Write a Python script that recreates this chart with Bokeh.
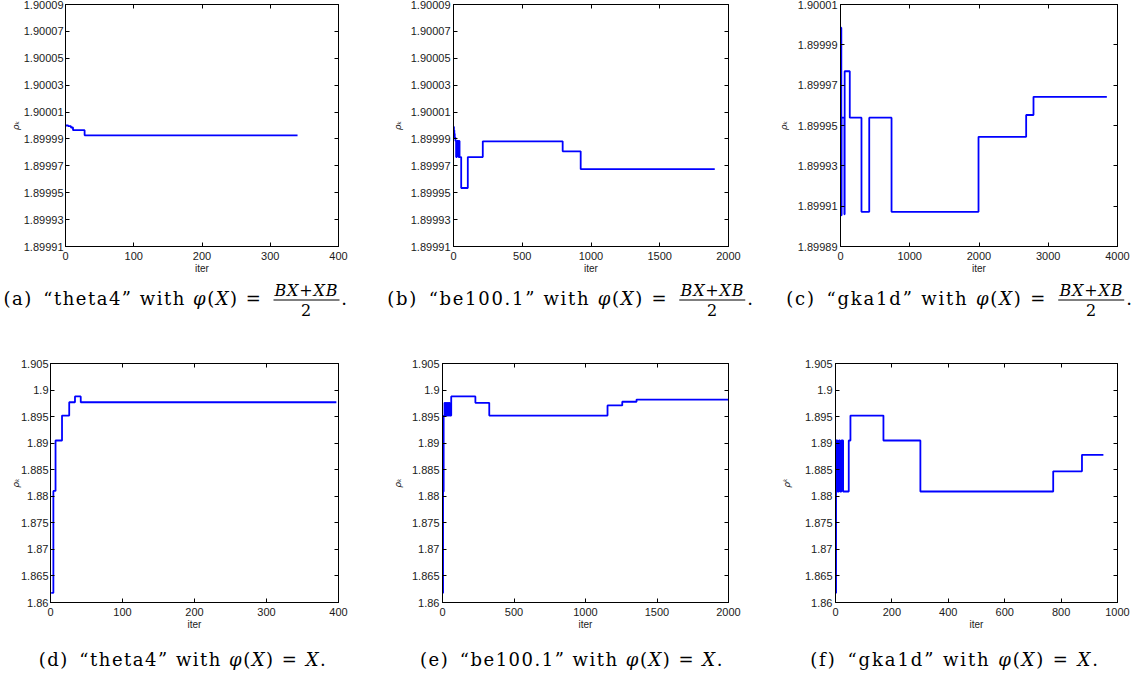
from bokeh.plotting import figure
from bokeh.models import Range1d, FixedTicker, LinearAxis, Div, ColumnDataSource
from bokeh.layouts import row, column
from bokeh.embed import file_html
from bokeh.resources import INLINE

# ---------------- data ----------------
a_iter = [0, 4, 8, 11, 28, 340]
a_rho = [1.9000000, 1.8999995, 1.8999985, 1.8999965, 1.8999927, 1.8999927]

b_iter = [0, 3, 6, 9, 14, 19, 24, 37, 40, 44, 56, 104, 213, 794, 925, 1900]
b_rho = [1.8999990, 1.8999965, 1.8999940, 1.8999910, 1.8999885, 1.8999765,
         1.8999885, 1.8999765, 1.8999885, 1.8999765, 1.8999535, 1.8999765,
         1.8999882, 1.8999808, 1.8999675, 1.8999675]

c_iter = [0, 12, 16, 56, 60, 134, 303, 415, 737, 1993, 2681, 2787, 3846]
c_rho = [1.8999985, 1.8999055, 1.8999539, 1.8999060, 1.8999769, 1.8999539,
         1.8999072, 1.8999539, 1.8999072, 1.8999444, 1.8999552, 1.8999642,
         1.8999642]

d_iter = [1, 4, 7, 16, 26, 34, 42, 397]
d_rho = [1.8618, 1.8810, 1.8905, 1.8952, 1.8977, 1.8988, 1.8977, 1.8977]

e_iter = [0, 4, 8, 14, 18, 22, 26, 30, 34, 38, 42, 46, 50, 61, 230, 327,
          1154, 1257, 1357, 2000]
e_rho = [1.8618, 1.8809, 1.8952, 1.8976, 1.8952, 1.8976, 1.8952, 1.8976,
         1.8952, 1.8976, 1.8952, 1.8976, 1.8952, 1.8988, 1.8976, 1.8952,
         1.8971, 1.8978, 1.8982, 1.8982]

f_iter = [0, 2, 7, 12, 16, 21, 27, 47, 53, 170, 301, 772, 874, 950]
f_rho = [1.8618, 1.8905, 1.8809, 1.8905, 1.8809, 1.8905, 1.8809, 1.8905,
         1.8952, 1.8905, 1.8809, 1.8847, 1.8878, 1.8878]

# axis limits
x_lims = [(0, 400), (0, 2000), (0, 4000), (0, 400), (0, 2000), (0, 1000)]
y_lims_top_ab = (1.89991, 1.90009)
y_lims_top_c = (1.89989, 1.90001)
y_lims_bottom = (1.86, 1.905)

# ticks
x_ticks_400 = [0, 100, 200, 300, 400]
x_labels_400 = ["0", "100", "200", "300", "400"]
x_ticks_2000 = [0, 500, 1000, 1500, 2000]
x_labels_2000 = ["0", "500", "1000", "1500", "2000"]
x_ticks_4000 = [0, 1000, 2000, 3000, 4000]
x_labels_4000 = ["0", "1000", "2000", "3000", "4000"]
x_ticks_1000 = [0, 200, 400, 600, 800, 1000]
x_labels_1000 = ["0", "200", "400", "600", "800", "1000"]

y_ticks_ab = [1.89991, 1.89993, 1.89995, 1.89997, 1.89999,
              1.90001, 1.90003, 1.90005, 1.90007, 1.90009]
y_labels_ab = ["1.89991", "1.89993", "1.89995", "1.89997", "1.89999",
               "1.90001", "1.90003", "1.90005", "1.90007", "1.90009"]
y_ticks_c = [1.89989, 1.89991, 1.89993, 1.89995, 1.89997, 1.89999, 1.90001]
y_labels_c = ["1.89989", "1.89991", "1.89993", "1.89995", "1.89997",
              "1.89999", "1.90001"]
y_ticks_bottom = [1.86, 1.865, 1.87, 1.875, 1.88, 1.885, 1.89, 1.895, 1.9, 1.905]
y_labels_bottom = ["1.86", "1.865", "1.87", "1.875", "1.88", "1.885",
                   "1.89", "1.895", "1.9", "1.905"]

x_label = "iter"
y_label_sub = "ρₖ"
y_label_sup = "ρᵏ"

tags = ["(a)", "(b)", "(c)", "(d)", "(e)", "(f)"]
problems = ["theta4", "be100.1", "gka1d", "theta4", "be100.1", "gka1d"]

TICK_FONT = "Liberation Sans"


def box_axis(ticks):
    return LinearAxis(ticker=FixedTicker(ticks=ticks),
                      major_label_overrides={t: "" for t in ticks},
                      major_label_text_font_size="0px",
                      major_label_standoff=0,
                      major_tick_in=4, major_tick_out=0,
                      minor_tick_line_color=None,
                      axis_line_color="black",
                      major_tick_line_color="black")


def panel(it, rho, xlim, ylim, xt, xtl, yt, ytl, ylab, w, h, bl, br, bt, bb,
          ystand, ytick_stand):
    p = figure(width=w, height=h, x_range=Range1d(*xlim), y_range=Range1d(*ylim),
               output_backend="svg", toolbar_location=None,
               min_border_left=bl, min_border_right=br,
               min_border_top=bt, min_border_bottom=bb)
    src = ColumnDataSource(dict(it=it, rho=rho))
    p.step(x="it", y="rho", source=src, mode="after",
           line_color="#0000ff", line_width=1.8)
    p.grid.visible = False
    p.outline_line_color = "black"
    p.outline_line_width = 1
    p.outline_line_alpha = 1
    p.background_fill_color = "white"
    p.border_fill_color = "white"
    for ax, ticks, labels in ((p.xaxis[0], xt, xtl), (p.yaxis[0], yt, ytl)):
        ax.ticker = FixedTicker(ticks=ticks)
        ax.major_label_overrides = dict(zip(ticks, labels))
        ax.major_tick_in = 4
        ax.major_tick_out = 0
        ax.minor_tick_line_color = None
        ax.axis_line_color = "black"
        ax.major_tick_line_color = "black"
        ax.major_label_text_font = TICK_FONT
        ax.major_label_text_font_size = "11px"
        ax.major_label_text_color = "#1a1a1a"
    xa = p.xaxis[0]
    xa.axis_label = x_label
    xa.axis_label_text_font = TICK_FONT
    xa.axis_label_text_font_size = "10px"
    xa.axis_label_text_font_style = "normal"
    xa.axis_label_text_color = "#1a1a1a"
    xa.axis_label_standoff = 0
    xa.major_label_standoff = 5
    ya = p.yaxis[0]
    ya.major_label_standoff = ytick_stand
    ya.axis_label = ylab
    ya.axis_label_text_font = "DejaVu Sans"
    ya.axis_label_text_font_size = "9px"
    ya.axis_label_text_font_style = "italic"
    ya.axis_label_text_color = "#1a1a1a"
    ya.axis_label_standoff = ystand
    p.add_layout(box_axis(xt), "above")
    p.add_layout(box_axis(yt), "right")
    return p


FRAC = ('<span style="display:inline-block;vertical-align:middle;text-align:center;'
        'font-size:16px;line-height:17px;letter-spacing:0.8px;margin:0 2px 0 4px">'
        '<span style="display:block;border-bottom:1px solid #000;padding:0 1px 1px 1px">'
        '<i>BX</i>+<i>XB</i></span>'
        '<span style="display:block;padding-top:1px">2</span></span>')
EQX = '<i>X</i>'


def caption(tag, name, rhs, w, h, cx, cy, lh, ls):
    html = ('<div style="position:relative;width:%dpx;height:%dpx">'
            '<div style="position:absolute;left:%dpx;top:%dpx;transform:translate(-50%%,-50%%);'
            'white-space:nowrap;font-family:\'DejaVu Serif\';font-size:18px;line-height:%dpx;'
            'letter-spacing:%.1fpx;color:#000">'
            '%s&ensp;&ldquo;%s&rdquo; with <i>φ</i>(<i>X</i>) = %s.</div></div>'
            % (w, h, cx, cy, lh, ls, tag, name, rhs))
    return Div(text=html, width=w, height=h, margin=0)


pa = panel(a_iter, a_rho, x_lims[0], y_lims_top_ab, x_ticks_400, x_labels_400,
           y_ticks_ab, y_labels_ab, y_label_sub, 382, 278, 57, 51, 4, 32, 0, 2)
pb = panel(b_iter, b_rho, x_lims[1], y_lims_top_ab, x_ticks_2000, x_labels_2000,
           y_ticks_ab, y_labels_ab, y_label_sub, 380, 278, 64, 41, 4, 32, 5, 3)
pc = panel(c_iter, c_rho, x_lims[2], y_lims_top_c, x_ticks_4000, x_labels_4000,
           y_ticks_c, y_labels_c, y_label_sub, 370, 278, 71, 22, 4, 32, 6, 3)
pd = panel(d_iter, d_rho, x_lims[3], y_lims_bottom, x_ticks_400, x_labels_400,
           y_ticks_bottom, y_labels_bottom, y_label_sub, 382, 295, 41, 51, 24, 32, -3, 2)
pe = panel(e_iter, e_rho, x_lims[4], y_lims_bottom, x_ticks_2000, x_labels_2000,
           y_ticks_bottom, y_labels_bottom, y_label_sub, 380, 295, 52, 41, 24, 32, 6, 3)
pf = panel(f_iter, f_rho, x_lims[5], y_lims_bottom, x_ticks_1000, x_labels_1000,
           y_ticks_bottom, y_labels_bottom, y_label_sup, 370, 295, 66, 22, 24, 32, 10, 3)

ca = caption(tags[0], problems[0], FRAC, 382, 61, 169, 22, 18, 1.5)
cb = caption(tags[1], problems[1], FRAC, 380, 61, 182, 22, 18, 1.7)
cc = caption(tags[2], problems[2], FRAC, 370, 61, 191, 22, 18, 1.8)
cd = caption(tags[3], problems[3], EQX, 382, 34, 176, 26, 14, 1.5)
ce = caption(tags[4], problems[4], EQX, 380, 34, 183, 26, 14, 1.5)
cf = caption(tags[5], problems[5], EQX, 370, 34, 186, 26, 14, 1.9)

layout = column(
    row(column(pa, ca, spacing=0), column(pb, cb, spacing=0), column(pc, cc, spacing=0), spacing=0),
    row(column(pd, cd, spacing=0), column(pe, ce, spacing=0), column(pf, cf, spacing=0), spacing=0),
    spacing=0, margin=(0, 0, 0, 7),
)

open("out.html", "w").write(file_html(layout, INLINE))
